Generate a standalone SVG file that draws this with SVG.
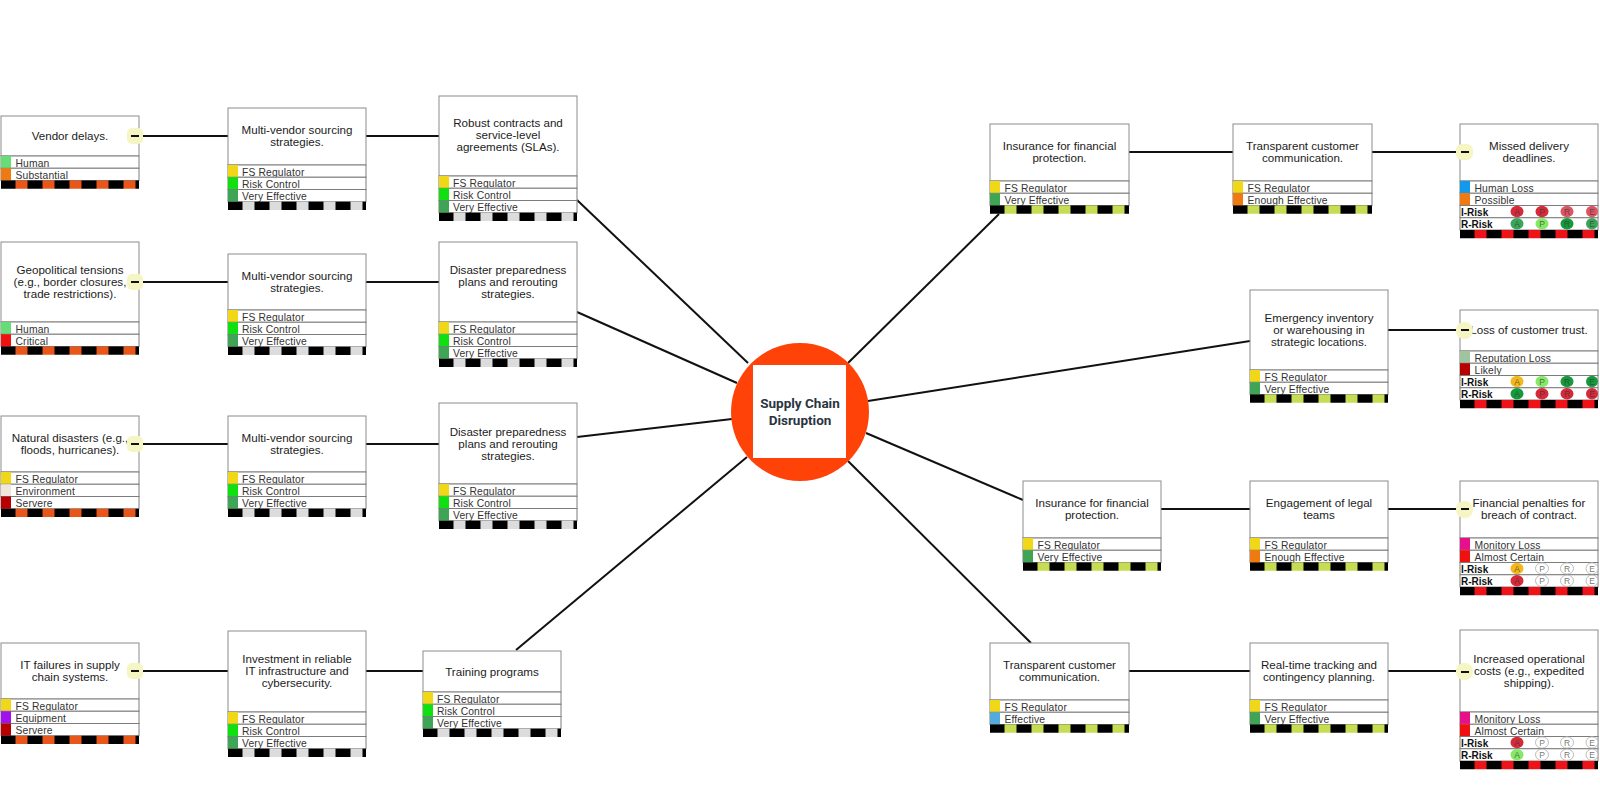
<svg xmlns="http://www.w3.org/2000/svg" width="1600" height="807" viewBox="0 0 1600 807">
<style>
text{font-family:"Liberation Sans",Arial,sans-serif;fill:#1c1c1c}
.box{fill:#fff;stroke:#8c8c8c;stroke-width:1}
.row{fill:#fff;stroke:#7c7c7c;stroke-width:1}
.t{font-size:11.6px;text-anchor:middle}
.l{font-size:10.3px;letter-spacing:.15px;fill:#333}
.k{font-size:10px;font-weight:bold;fill:#111}
.c{font-size:8.500px;text-anchor:middle;fill:#333;fill-opacity:.7}
.badge{fill:#f6f6c4}
.bar{fill:#111}
.e{stroke:#aaa;stroke-width:.8;fill:#fff}
.link{stroke:#111;stroke-width:2;fill:none}
.red{fill:#d42a3a}.lred{fill:#dc5563}.grn{fill:#3aa65a}.lgrn{fill:#85e866}.dgrn{fill:#169a3c}.amb{fill:#f4b81c}
.center{font-family:Roboto,sans-serif;font-size:13.500px;font-weight:700;text-anchor:middle;fill:#2a3442}
</style>
<defs>
<pattern id="so" width="27" height="9" patternUnits="userSpaceOnUse"><rect width="27" height="9" fill="#000"/><rect x="14.5" width="12" height="9" fill="#e8561a"/></pattern>
<pattern id="sg" width="27" height="9" patternUnits="userSpaceOnUse"><rect width="27" height="9" fill="#000"/><rect x="14.5" width="12" height="9" fill="#dcdcdc"/></pattern>
<pattern id="sy" width="27" height="9" patternUnits="userSpaceOnUse"><rect width="27" height="9" fill="#000"/><rect x="14.5" width="12" height="9" fill="#c6dc52"/></pattern>
<pattern id="sr" width="27" height="9" patternUnits="userSpaceOnUse"><rect width="27" height="9" fill="#000"/><rect x="14.5" width="12" height="9" fill="#ec1418"/></pattern>
</defs>
<rect width="1600" height="807" fill="#fff"/>
<g id="connectors" class="link">
<path d="M139 136H228M366 136H439"/>
<path d="M139 282H228M366 282H439"/>
<path d="M139 444H228M366 444H439"/>
<path d="M139 671H228M366 671H423"/>
<path d="M577 200L748 363"/>
<path d="M577 312L737 383"/>
<path d="M577 437L732 419"/>
<path d="M516 650L747 457"/>
<path d="M1129 152H1233M1372 152H1460"/>
<path d="M1388 330H1460"/>
<path d="M1161 509H1250M1388 509H1460"/>
<path d="M1129 671H1250M1388 671H1460"/>
<path d="M999 214L848 363"/>
<path d="M1250 341L868 401"/>
<path d="M1023 500L866 433"/>
<path d="M1031 643L848 461"/>
</g>
<g id="center"><circle cx="800" cy="412" r="69" fill="#ff4308"/><rect x="753" y="365" width="93" height="93" fill="#fff"/><text class="center" x="800" y="408">Supply Chain</text><text class="center" x="800" y="425">Disruption</text></g>

<g id="vendor-delays" transform="translate(1,116)"><rect class="box" width="138" height="40"/><text class="t" x="69" y="24">Vendor delays.</text>
<rect class="row" y="40" width="138" height="12.250"/><rect y="40" width="10" height="12.250" fill="#66dd77"/><text class="l" x="14.500" y="50.500">Human</text>
<rect class="row" y="52.250" width="138" height="12.250"/><rect y="52.250" width="10" height="12.250" fill="#f07a10"/><text class="l" x="14.500" y="62.750">Substantial</text>
<rect y="64.500" width="138" height="8.250" fill="url(#so)"/><rect class="badge" x="126" y="12" width="16" height="16" rx="5"/><rect class="bar" x="130" y="19" width="8" height="2"/></g>

<g id="geopolitical" transform="translate(1,242)"><rect class="box" width="138" height="80"/><text class="t" x="69" y="32">Geopolitical tensions</text><text class="t" x="69" y="44">(e.g., border closures,</text><text class="t" x="69" y="56">trade restrictions).</text>
<rect class="row" y="80" width="138" height="12.250"/><rect y="80" width="10" height="12.250" fill="#66dd77"/><text class="l" x="14.500" y="90.500">Human</text>
<rect class="row" y="92.250" width="138" height="12.250"/><rect y="92.250" width="10" height="12.250" fill="#f01010"/><text class="l" x="14.500" y="102.750">Critical</text>
<rect y="104.500" width="138" height="8.250" fill="url(#so)"/><rect class="badge" x="126" y="32" width="16" height="16" rx="5"/><rect class="bar" x="130" y="39" width="8" height="2"/></g>

<g id="natural-disasters" transform="translate(1,416)"><rect class="box" width="138" height="56"/><text class="t" x="69" y="26">Natural disasters (e.g.,</text><text class="t" x="69" y="38">floods, hurricanes).</text>
<rect class="row" y="56" width="138" height="12.250"/><rect y="56" width="10" height="12.250" fill="#f0d818"/><text class="l" x="14.500" y="66.500">FS Regulator</text>
<rect class="row" y="68.250" width="138" height="12.250"/><rect y="68.250" width="10" height="12.250" fill="#f0e6dc"/><text class="l" x="14.500" y="78.750">Environment</text>
<rect class="row" y="80.500" width="138" height="12.250"/><rect y="80.500" width="10" height="12.250" fill="#b80000"/><text class="l" x="14.500" y="91">Servere</text>
<rect y="92.750" width="138" height="8.250" fill="url(#so)"/><rect class="badge" x="126" y="20" width="16" height="16" rx="5"/><rect class="bar" x="130" y="27" width="8" height="2"/></g>

<g id="it-failures" transform="translate(1,643)"><rect class="box" width="138" height="56"/><text class="t" x="69" y="26">IT failures in supply</text><text class="t" x="69" y="38">chain systems.</text>
<rect class="row" y="56" width="138" height="12.250"/><rect y="56" width="10" height="12.250" fill="#f0d818"/><text class="l" x="14.500" y="66.500">FS Regulator</text>
<rect class="row" y="68.250" width="138" height="12.250"/><rect y="68.250" width="10" height="12.250" fill="#a010f0"/><text class="l" x="14.500" y="78.750">Equipment</text>
<rect class="row" y="80.500" width="138" height="12.250"/><rect y="80.500" width="10" height="12.250" fill="#b80000"/><text class="l" x="14.500" y="91">Servere</text>
<rect y="92.750" width="138" height="8.250" fill="url(#so)"/><rect class="badge" x="126" y="20" width="16" height="16" rx="5"/><rect class="bar" x="130" y="27" width="8" height="2"/></g>

<g id="mv-1" transform="translate(228,108)"><rect class="box" width="138" height="57"/><text class="t" x="69" y="26">Multi-vendor sourcing</text><text class="t" x="69" y="38">strategies.</text>
<rect class="row" y="57" width="138" height="12.250"/><rect y="57" width="10" height="12.250" fill="#f0d818"/><text class="l" x="14" y="67.500">FS Regulator</text>
<rect class="row" y="69.250" width="138" height="12.250"/><rect y="69.250" width="10" height="12.250" fill="#10e010"/><text class="l" x="14" y="79.750">Risk Control</text>
<rect class="row" y="81.500" width="138" height="12.250"/><rect y="81.500" width="10" height="12.250" fill="#3fa455"/><text class="l" x="14" y="92">Very Effective</text>
<rect y="93.750" width="138" height="8.250" fill="url(#sg)"/></g>

<g id="mv-2" transform="translate(228,254)"><rect class="box" width="138" height="56"/><text class="t" x="69" y="26">Multi-vendor sourcing</text><text class="t" x="69" y="38">strategies.</text>
<rect class="row" y="56" width="138" height="12.250"/><rect y="56" width="10" height="12.250" fill="#f0d818"/><text class="l" x="14" y="66.500">FS Regulator</text>
<rect class="row" y="68.250" width="138" height="12.250"/><rect y="68.250" width="10" height="12.250" fill="#10e010"/><text class="l" x="14" y="78.750">Risk Control</text>
<rect class="row" y="80.500" width="138" height="12.250"/><rect y="80.500" width="10" height="12.250" fill="#3fa455"/><text class="l" x="14" y="91">Very Effective</text>
<rect y="92.750" width="138" height="8.250" fill="url(#sg)"/></g>

<g id="mv-3" transform="translate(228,416)"><rect class="box" width="138" height="56"/><text class="t" x="69" y="26">Multi-vendor sourcing</text><text class="t" x="69" y="38">strategies.</text>
<rect class="row" y="56" width="138" height="12.250"/><rect y="56" width="10" height="12.250" fill="#f0d818"/><text class="l" x="14" y="66.500">FS Regulator</text>
<rect class="row" y="68.250" width="138" height="12.250"/><rect y="68.250" width="10" height="12.250" fill="#10e010"/><text class="l" x="14" y="78.750">Risk Control</text>
<rect class="row" y="80.500" width="138" height="12.250"/><rect y="80.500" width="10" height="12.250" fill="#3fa455"/><text class="l" x="14" y="91">Very Effective</text>
<rect y="92.750" width="138" height="8.250" fill="url(#sg)"/></g>

<g id="investment" transform="translate(228,631)"><rect class="box" width="138" height="81"/><text class="t" x="69" y="32">Investment in reliable</text><text class="t" x="69" y="44">IT infrastructure and</text><text class="t" x="69" y="55.500">cybersecurity.</text>
<rect class="row" y="81" width="138" height="12.250"/><rect y="81" width="10" height="12.250" fill="#f0d818"/><text class="l" x="14" y="91.500">FS Regulator</text>
<rect class="row" y="93.250" width="138" height="12.250"/><rect y="93.250" width="10" height="12.250" fill="#10e010"/><text class="l" x="14" y="103.750">Risk Control</text>
<rect class="row" y="105.500" width="138" height="12.250"/><rect y="105.500" width="10" height="12.250" fill="#3fa455"/><text class="l" x="14" y="116">Very Effective</text>
<rect y="117.750" width="138" height="8.250" fill="url(#sg)"/></g>

<g id="robust-contracts" transform="translate(439,96)"><rect class="box" width="138" height="80"/><text class="t" x="69" y="31">Robust contracts and</text><text class="t" x="69" y="43">service-level</text><text class="t" x="69" y="54.500">agreements (SLAs).</text>
<rect class="row" y="80" width="138" height="12.250"/><rect y="80" width="10" height="12.250" fill="#f0d818"/><text class="l" x="14" y="90.500">FS Regulator</text>
<rect class="row" y="92.250" width="138" height="12.250"/><rect y="92.250" width="10" height="12.250" fill="#10e010"/><text class="l" x="14" y="102.750">Risk Control</text>
<rect class="row" y="104.500" width="138" height="12.250"/><rect y="104.500" width="10" height="12.250" fill="#3fa455"/><text class="l" x="14" y="115">Very Effective</text>
<rect y="116.750" width="138" height="8.250" fill="url(#sg)"/></g>

<g id="disaster-1" transform="translate(439,242)"><rect class="box" width="138" height="80"/><text class="t" x="69" y="32">Disaster preparedness</text><text class="t" x="69" y="44">plans and rerouting</text><text class="t" x="69" y="56">strategies.</text>
<rect class="row" y="80" width="138" height="12.250"/><rect y="80" width="10" height="12.250" fill="#f0d818"/><text class="l" x="14" y="90.500">FS Regulator</text>
<rect class="row" y="92.250" width="138" height="12.250"/><rect y="92.250" width="10" height="12.250" fill="#10e010"/><text class="l" x="14" y="102.750">Risk Control</text>
<rect class="row" y="104.500" width="138" height="12.250"/><rect y="104.500" width="10" height="12.250" fill="#3fa455"/><text class="l" x="14" y="115">Very Effective</text>
<rect y="116.750" width="138" height="8.250" fill="url(#sg)"/></g>

<g id="disaster-2" transform="translate(439,403)"><rect class="box" width="138" height="81"/><text class="t" x="69" y="33">Disaster preparedness</text><text class="t" x="69" y="45">plans and rerouting</text><text class="t" x="69" y="57">strategies.</text>
<rect class="row" y="81" width="138" height="12.250"/><rect y="81" width="10" height="12.250" fill="#f0d818"/><text class="l" x="14" y="91.500">FS Regulator</text>
<rect class="row" y="93.250" width="138" height="12.250"/><rect y="93.250" width="10" height="12.250" fill="#10e010"/><text class="l" x="14" y="103.750">Risk Control</text>
<rect class="row" y="105.500" width="138" height="12.250"/><rect y="105.500" width="10" height="12.250" fill="#3fa455"/><text class="l" x="14" y="116">Very Effective</text>
<rect y="117.750" width="138" height="8.250" fill="url(#sg)"/></g>

<g id="training" transform="translate(423,651)"><rect class="box" width="138" height="41"/><text class="t" x="69" y="25">Training programs</text>
<rect class="row" y="41" width="138" height="12.250"/><rect y="41" width="10" height="12.250" fill="#f0d818"/><text class="l" x="14" y="51.500">FS Regulator</text>
<rect class="row" y="53.250" width="138" height="12.250"/><rect y="53.250" width="10" height="12.250" fill="#10e010"/><text class="l" x="14" y="63.750">Risk Control</text>
<rect class="row" y="65.500" width="138" height="12.250"/><rect y="65.500" width="10" height="12.250" fill="#3fa455"/><text class="l" x="14" y="76">Very Effective</text>
<rect y="77.750" width="138" height="8.250" fill="url(#sg)"/></g>

<g id="insurance-1" transform="translate(990,124)"><rect class="box" width="139" height="57"/><text class="t" x="69.500" y="26">Insurance for financial</text><text class="t" x="69.500" y="38">protection.</text>
<rect class="row" y="57" width="139" height="12.250"/><rect y="57" width="10" height="12.250" fill="#f0d818"/><text class="l" x="14.500" y="67.500">FS Regulator</text>
<rect class="row" y="69.250" width="139" height="12.250"/><rect y="69.250" width="10" height="12.250" fill="#3fa455"/><text class="l" x="14.500" y="79.750">Very Effective</text>
<rect y="81.500" width="139" height="8.250" fill="url(#sy)"/></g>

<g id="transparent-1" transform="translate(1233,124)"><rect class="box" width="139" height="57"/><text class="t" x="69.500" y="26">Transparent customer</text><text class="t" x="69.500" y="38">communication.</text>
<rect class="row" y="57" width="139" height="12.250"/><rect y="57" width="10" height="12.250" fill="#f0d818"/><text class="l" x="14.500" y="67.500">FS Regulator</text>
<rect class="row" y="69.250" width="139" height="12.250"/><rect y="69.250" width="10" height="12.250" fill="#f07a10"/><text class="l" x="14.500" y="79.750">Enough Effective</text>
<rect y="81.500" width="139" height="8.250" fill="url(#sy)"/></g>

<g id="missed-delivery" transform="translate(1460,124)"><rect class="box" width="138" height="57"/><text class="t" x="69" y="26">Missed delivery</text><text class="t" x="69" y="38">deadlines.</text>
<rect class="row" y="57" width="138" height="12.250"/><rect y="57" width="10" height="12.250" fill="#1199ee"/><text class="l" x="14.500" y="67.500">Human Loss</text>
<rect class="row" y="69.250" width="138" height="12.250"/><rect y="69.250" width="10" height="12.250" fill="#f07a10"/><text class="l" x="14.500" y="79.750">Possible</text>
<rect class="row" y="81.500" width="138" height="12.250"/><text class="k" x="1" y="91.500">I-Risk</text>
<ellipse class="red" cx="57" cy="87.500" rx="6.500" ry="5.700"/><text class="c" x="57" y="90.500">A</text><ellipse class="red" cx="82" cy="87.500" rx="6.500" ry="5.700"/><text class="c" x="82" y="90.500">P</text><ellipse class="lred" cx="107" cy="87.500" rx="6.500" ry="5.700"/><text class="c" x="107" y="90.500">R</text><ellipse class="lred" cx="132" cy="87.500" rx="6" ry="5.700"/><text class="c" x="132" y="90.500">E</text>
<rect class="row" y="93.750" width="138" height="12.250"/><text class="k" x="1" y="103.750">R-Risk</text>
<ellipse class="grn" cx="57" cy="99.750" rx="6.500" ry="5.700"/><text class="c" x="57" y="102.750">A</text><ellipse class="lgrn" cx="82" cy="99.750" rx="6.500" ry="5.700"/><text class="c" x="82" y="102.750">P</text><ellipse class="dgrn" cx="107" cy="99.750" rx="6.500" ry="5.700"/><text class="c" x="107" y="102.750">R</text><ellipse class="grn" cx="132" cy="99.750" rx="6" ry="5.700"/><text class="c" x="132" y="102.750">E</text>
<rect y="106" width="138" height="8.250" fill="url(#sr)"/><rect class="badge" x="-4" y="20" width="17" height="16" rx="6"/><rect class="bar" x="1" y="27" width="8" height="2"/></g>

<g id="emergency-inventory" transform="translate(1250,290)"><rect class="box" width="138" height="80"/><text class="t" x="69" y="32">Emergency inventory</text><text class="t" x="69" y="44">or warehousing in</text><text class="t" x="69" y="56">strategic locations.</text>
<rect class="row" y="80" width="138" height="12.250"/><rect y="80" width="10" height="12.250" fill="#f0d818"/><text class="l" x="14.500" y="90.500">FS Regulator</text>
<rect class="row" y="92.250" width="138" height="12.250"/><rect y="92.250" width="10" height="12.250" fill="#3fa455"/><text class="l" x="14.500" y="102.750">Very Effective</text>
<rect y="104.500" width="138" height="8.250" fill="url(#sy)"/></g>

<g id="loss-of-trust" transform="translate(1460,310)"><rect class="box" width="138" height="41"/><text class="t" x="69" y="24">Loss of customer trust.</text>
<rect class="row" y="41" width="138" height="12.250"/><rect y="41" width="10" height="12.250" fill="#a0c4a0"/><text class="l" x="14.500" y="51.500">Reputation Loss</text>
<rect class="row" y="53.250" width="138" height="12.250"/><rect y="53.250" width="10" height="12.250" fill="#b80000"/><text class="l" x="14.500" y="63.750">Likely</text>
<rect class="row" y="65.500" width="138" height="12.250"/><text class="k" x="1" y="75.500">I-Risk</text>
<ellipse class="amb" cx="57" cy="71.500" rx="6.500" ry="5.700"/><text class="c" x="57" y="74.500">A</text><ellipse class="lgrn" cx="82" cy="71.500" rx="6.500" ry="5.700"/><text class="c" x="82" y="74.500">P</text><ellipse class="dgrn" cx="107" cy="71.500" rx="6.500" ry="5.700"/><text class="c" x="107" y="74.500">R</text><ellipse class="dgrn" cx="132" cy="71.500" rx="6" ry="5.700"/><text class="c" x="132" y="74.500">E</text>
<rect class="row" y="77.750" width="138" height="12.250"/><text class="k" x="1" y="87.750">R-Risk</text>
<ellipse class="dgrn" cx="57" cy="83.750" rx="6.500" ry="5.700"/><text class="c" x="57" y="86.750">A</text><ellipse class="red" cx="82" cy="83.750" rx="6.500" ry="5.700"/><text class="c" x="82" y="86.750">P</text><ellipse class="red" cx="107" cy="83.750" rx="6.500" ry="5.700"/><text class="c" x="107" y="86.750">R</text><ellipse class="red" cx="132" cy="83.750" rx="6" ry="5.700"/><text class="c" x="132" y="86.750">E</text>
<rect y="90" width="138" height="8.250" fill="url(#sr)"/><rect class="badge" x="-4" y="12" width="17" height="17" rx="8"/><rect class="bar" x="1" y="19" width="8" height="2"/></g>

<g id="insurance-2" transform="translate(1023,481)"><rect class="box" width="138" height="57"/><text class="t" x="69" y="26">Insurance for financial</text><text class="t" x="69" y="38">protection.</text>
<rect class="row" y="57" width="138" height="12.250"/><rect y="57" width="10" height="12.250" fill="#f0d818"/><text class="l" x="14.500" y="67.500">FS Regulator</text>
<rect class="row" y="69.250" width="138" height="12.250"/><rect y="69.250" width="10" height="12.250" fill="#3fa455"/><text class="l" x="14.500" y="79.750">Very Effective</text>
<rect y="81.500" width="138" height="8.250" fill="url(#sy)"/></g>

<g id="legal-teams" transform="translate(1250,481)"><rect class="box" width="138" height="57"/><text class="t" x="69" y="26">Engagement of legal</text><text class="t" x="69" y="38">teams</text>
<rect class="row" y="57" width="138" height="12.250"/><rect y="57" width="10" height="12.250" fill="#f0d818"/><text class="l" x="14.500" y="67.500">FS Regulator</text>
<rect class="row" y="69.250" width="138" height="12.250"/><rect y="69.250" width="10" height="12.250" fill="#f07a10"/><text class="l" x="14.500" y="79.750">Enough Effective</text>
<rect y="81.500" width="138" height="8.250" fill="url(#sy)"/></g>

<g id="financial-penalties" transform="translate(1460,481)"><rect class="box" width="138" height="57"/><text class="t" x="69" y="26">Financial penalties for</text><text class="t" x="69" y="38">breach of contract.</text>
<rect class="row" y="57" width="138" height="12.250"/><rect y="57" width="10" height="12.250" fill="#e8108a"/><text class="l" x="14.500" y="67.500">Monitory Loss</text>
<rect class="row" y="69.250" width="138" height="12.250"/><rect y="69.250" width="10" height="12.250" fill="#f01010"/><text class="l" x="14.500" y="79.750">Almost Certain</text>
<rect class="row" y="81.500" width="138" height="12.250"/><text class="k" x="1" y="91.500">I-Risk</text>
<ellipse class="amb" cx="57" cy="87.500" rx="6.500" ry="5.700"/><text class="c" x="57" y="90.500">A</text><ellipse class="e" cx="82" cy="87.500" rx="6.500" ry="5.700"/><text class="c" x="82" y="90.500">P</text><ellipse class="e" cx="107" cy="87.500" rx="6.500" ry="5.700"/><text class="c" x="107" y="90.500">R</text><ellipse class="e" cx="132" cy="87.500" rx="6" ry="5.700"/><text class="c" x="132" y="90.500">E</text>
<rect class="row" y="93.750" width="138" height="12.250"/><text class="k" x="1" y="103.750">R-Risk</text>
<ellipse class="red" cx="57" cy="99.750" rx="6.500" ry="5.700"/><text class="c" x="57" y="102.750">A</text><ellipse class="e" cx="82" cy="99.750" rx="6.500" ry="5.700"/><text class="c" x="82" y="102.750">P</text><ellipse class="e" cx="107" cy="99.750" rx="6.500" ry="5.700"/><text class="c" x="107" y="102.750">R</text><ellipse class="e" cx="132" cy="99.750" rx="6" ry="5.700"/><text class="c" x="132" y="102.750">E</text>
<rect y="106" width="138" height="8.250" fill="url(#sr)"/><rect class="badge" x="-4" y="20" width="17" height="17" rx="8"/><rect class="bar" x="1" y="27" width="8" height="2"/></g>

<g id="transparent-2" transform="translate(990,643)"><rect class="box" width="139" height="57"/><text class="t" x="69.500" y="26">Transparent customer</text><text class="t" x="69.500" y="38">communication.</text>
<rect class="row" y="57" width="139" height="12.250"/><rect y="57" width="10" height="12.250" fill="#f0d818"/><text class="l" x="14.500" y="67.500">FS Regulator</text>
<rect class="row" y="69.250" width="139" height="12.250"/><rect y="69.250" width="10" height="12.250" fill="#55aadd"/><text class="l" x="14.500" y="79.750">Effective</text>
<rect y="81.500" width="139" height="8.250" fill="url(#sy)"/></g>

<g id="real-time" transform="translate(1250,643)"><rect class="box" width="138" height="57"/><text class="t" x="69" y="26">Real-time tracking and</text><text class="t" x="69" y="38">contingency planning.</text>
<rect class="row" y="57" width="138" height="12.250"/><rect y="57" width="10" height="12.250" fill="#f0d818"/><text class="l" x="14.500" y="67.500">FS Regulator</text>
<rect class="row" y="69.250" width="138" height="12.250"/><rect y="69.250" width="10" height="12.250" fill="#3fa455"/><text class="l" x="14.500" y="79.750">Very Effective</text>
<rect y="81.500" width="138" height="8.250" fill="url(#sy)"/></g>

<g id="operational-costs" transform="translate(1460,630)"><rect class="box" width="138" height="82"/><text class="t" x="69" y="33">Increased operational</text><text class="t" x="69" y="45">costs (e.g., expedited</text><text class="t" x="69" y="57">shipping).</text>
<rect class="row" y="82" width="138" height="12.250"/><rect y="82" width="10" height="12.250" fill="#e8108a"/><text class="l" x="14.500" y="92.500">Monitory Loss</text>
<rect class="row" y="94.250" width="138" height="12.250"/><rect y="94.250" width="10" height="12.250" fill="#f01010"/><text class="l" x="14.500" y="104.750">Almost Certain</text>
<rect class="row" y="106.500" width="138" height="12.250"/><text class="k" x="1" y="116.500">I-Risk</text>
<ellipse class="red" cx="57" cy="112.500" rx="6.500" ry="5.700"/><text class="c" x="57" y="115.500">A</text><ellipse class="e" cx="82" cy="112.500" rx="6.500" ry="5.700"/><text class="c" x="82" y="115.500">P</text><ellipse class="e" cx="107" cy="112.500" rx="6.500" ry="5.700"/><text class="c" x="107" y="115.500">R</text><ellipse class="e" cx="132" cy="112.500" rx="6" ry="5.700"/><text class="c" x="132" y="115.500">E</text>
<rect class="row" y="118.750" width="138" height="12.250"/><text class="k" x="1" y="128.750">R-Risk</text>
<ellipse class="lgrn" cx="57" cy="124.750" rx="6.500" ry="5.700"/><text class="c" x="57" y="127.750">A</text><ellipse class="e" cx="82" cy="124.750" rx="6.500" ry="5.700"/><text class="c" x="82" y="127.750">P</text><ellipse class="e" cx="107" cy="124.750" rx="6.500" ry="5.700"/><text class="c" x="107" y="127.750">R</text><ellipse class="e" cx="132" cy="124.750" rx="6" ry="5.700"/><text class="c" x="132" y="127.750">E</text>
<rect y="131" width="138" height="8.250" fill="url(#sr)"/><rect class="badge" x="-4" y="33" width="17" height="17" rx="8"/><rect class="bar" x="1" y="41" width="8" height="2"/></g>
</svg>
